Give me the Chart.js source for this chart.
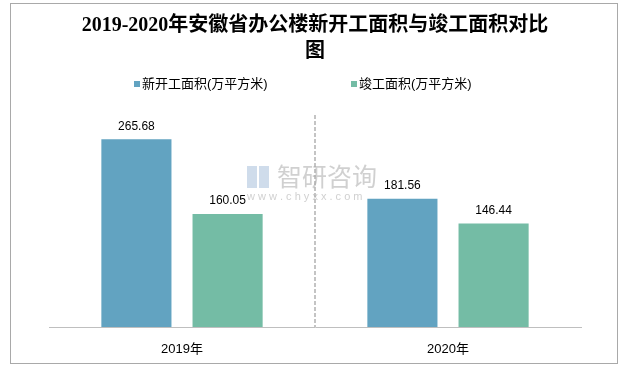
<!DOCTYPE html>
<html>
<head>
<meta charset="utf-8">
<script src="https://cdn.jsdelivr.net/npm/chart.js@4/dist/chart.umd.min.js"></script>
<style>
  html, body { margin: 0; padding: 0; background: #fff; }
  #wrap { position: relative; width: 633px; height: 368px; }
</style>
</head>
<body>
<div id="wrap"><canvas id="chart"></canvas></div>
<script>
// data
const categories = ['2019年', '2020年'];
const seriesNames = ['新开工面积(万平方米)', '竣工面积(万平方米)'];
const newStarted = [265.68, 181.56];
const completed = [160.05, 146.44];
const seriesColors = ['#62a3c1', '#74bca5'];
const titleLines = ['2019-2020年安徽省办公楼新开工面积与竣工面积对比', '图'];

const cjkSans = '"Liberation Sans", "Noto Sans CJK SC", sans-serif';

// frame + watermark + legend, drawn by hand
const decor = {
    id: 'decor',
    beforeDatasetsDraw(chart) {
        const ctx = chart.ctx;
        ctx.save();
        ctx.fillStyle = 'rgba(170,170,170,0.55)';
        ctx.font = '25px "Noto Sans CJK SC", sans-serif';
        ctx.textBaseline = 'middle';
        ctx.textAlign = 'left';
        ctx.fillText('智研咨询', 277, 176);
        ctx.font = '11px "Liberation Sans", sans-serif';
        ctx.fillText('w w w . c h y x x . c o m', 247, 197);
        ctx.fillStyle = 'rgba(160,185,215,0.5)';
        ctx.fillRect(247, 166, 10, 22);
        ctx.fillRect(259, 166, 10, 22);
        ctx.restore();
    },
    afterDatasetsDraw(chart) {
        const ctx = chart.ctx;
        ctx.save();
        ctx.font = '12px ' + cjkSans;
        ctx.fillStyle = '#000';
        ctx.textAlign = 'center';
        ctx.textBaseline = 'middle';
        chart.data.datasets.forEach((ds, i) => {
            chart.getDatasetMeta(i).data.forEach((bar, j) => {
                ctx.fillText(ds.data[j].toFixed(2), bar.x, bar.y - 13);
            });
        });
        ctx.restore();
    },
    afterDraw(chart) {
        const ctx = chart.ctx;
        ctx.save();
        // outer frame
        ctx.strokeStyle = '#a9a9a9';
        ctx.lineWidth = 1;
        ctx.strokeRect(10.5, 3.5, 607, 360);
        // legend
        const starts = [134, 351];
        ctx.font = '13px ' + cjkSans;
        ctx.textBaseline = 'middle';
        ctx.textAlign = 'left';
        chart.data.datasets.forEach((ds, i) => {
            ctx.fillStyle = ds.backgroundColor;
            ctx.fillRect(starts[i], 81, 6, 6);
            ctx.fillStyle = '#000';
            ctx.fillText(ds.label, starts[i] + 8, 84);
        });
        ctx.restore();
    }
};

const ctx = document.getElementById('chart').getContext('2d');
new Chart(ctx, {
    type: 'bar',
    data: {
        labels: categories,
        datasets: [
            {label: seriesNames[0], data: newStarted, backgroundColor: seriesColors[0]},
            {label: seriesNames[1], data: completed, backgroundColor: seriesColors[1]}
        ]
    },
    options: {
        responsive: true,
        maintainAspectRatio: false,
        animation: false,
        categoryPercentage: 0.6855,
        barPercentage: 0.769,
        layout: {padding: {left: 49, right: 52, top: 0, bottom: 10}},
        scales: {
            x: {
                offset: true,
                afterFit: s => { s.height = 31; },
                grid: {
                    display: true,
                    drawTicks: false,
                    lineWidth: 2,
                    color: c => c.index === 1 ? '#c4c4c4' : 'rgba(0,0,0,0)'
                },
                border: {display: true, color: '#bfbfbf', width: 1, dash: [4, 2]},
                ticks: {color: '#000', padding: 15, font: {size: 13, family: cjkSans}}
            },
            y: {
                display: false,
                min: 0,
                max: 300,
                grid: {display: false}
            }
        },
        plugins: {
            legend: {display: false},
            tooltip: {enabled: false},
            title: {
                display: true,
                text: titleLines,
                color: '#000',
                font: {size: 20, weight: 'bold', family: '"Liberation Serif", "Noto Sans CJK SC", serif', lineHeight: 1.3},
                padding: {top: 13, bottom: 50}
            }
        }
    },
    plugins: [decor]
});
</script>
</body>
</html>
